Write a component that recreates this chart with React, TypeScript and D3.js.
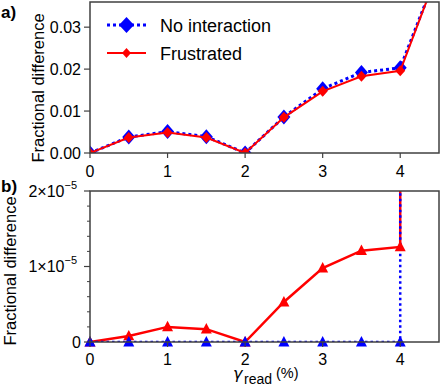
import React from 'react';
import * as d3 from 'd3';

const gammaRead = [0, 0.5, 1, 1.5, 2, 2.5, 3, 3.5, 4, 4.5];
const aNoInteraction = [0, 0.0038, 0.0051, 0.0039, 0, 0.0086, 0.0153, 0.0192, 0.0203, 0.044];
const aFrustrated = [0, 0.0037, 0.0049, 0.0037, 0, 0.0085, 0.0147, 0.0183, 0.0196, 0.044];
const bNoInteraction = [0, 0, 0, 0, 0, 0, 0, 0, 0, 0.04];
const bFrustrated = [0, 0.08e-5, 0.2e-5, 0.17e-5, 0, 0.53e-5, 0.98e-5, 1.21e-5, 1.26e-5, 0.04];
const xTicks = [0, 1, 2, 3, 4];
const aYTicks = [0, 0.01, 0.02, 0.03];
const bYTicks = [0, 1e-5, 2e-5];
const bMinorTicks = d3.range(1, 10).filter(i => i !== 5).map(i => i * 0.2e-5);

const FONT = '"Liberation Sans", Arial, Helvetica, sans-serif';
const BLUE = '#0000ff';
const RED = '#ff0000';
const FRAME = '#404040';

const diamond = (cx: number, cy: number, w: number, h: number) =>
  `M${cx},${cy - h / 2}L${cx + w / 2},${cy}L${cx},${cy + h / 2}L${cx - w / 2},${cy}Z`;
const triangle = (cx: number, cy: number, s: number) =>
  `M${cx},${cy - s * 0.55}L${cx + s / 2},${cy + s * 0.4}L${cx - s / 2},${cy + s * 0.4}Z`;

export default function App() {
  const left = 90, right = 439;
  const x = d3.scaleLinear().domain([0, 4.5]).range([left, right]);
  const ya = d3.scaleLinear().domain([0, 0.036]).range([153, 2]);
  const yb = d3.scaleLinear().domain([0, 2e-5]).range([342, 191]);

  const lineA = (vals: number[]) =>
    d3.line<number>().x((_, i) => x(gammaRead[i])).y(d => ya(d))(vals) || '';
  const lineB = (vals: number[]) =>
    d3.line<number>().x((_, i) => x(gammaRead[i])).y(d => yb(d))(vals) || '';

  const [a0, a1] = ya.range();
  const [b0, b1] = yb.range();

  return (
    <svg width={442} height={389} style={{ position: 'absolute', left: 0, top: 0, background: '#fff' }}
      fontFamily={FONT}>
      <defs>
        <clipPath id="clipA"><rect x={left} y={a1} width={right - left} height={a0 - a1} /></clipPath>
        <clipPath id="clipB"><rect x={left} y={b1} width={right - left} height={b0 - b1} /></clipPath>
      </defs>

      {/* panel a */}
      <g clipPath="url(#clipA)">
        <path d={lineA(aNoInteraction)} fill="none" stroke={BLUE} strokeWidth={3} strokeDasharray="3,3" />
        {aNoInteraction.map((d, i) => (
          <path key={'an' + i} d={diamond(x(gammaRead[i]), ya(d), 13, 15)} fill={BLUE} />
        ))}
        <path d={lineA(aFrustrated)} fill="none" stroke={RED} strokeWidth={2} />
        {aFrustrated.map((d, i) => (
          <path key={'af' + i} d={diamond(x(gammaRead[i]), ya(d), 10, 11)} fill={RED} />
        ))}
      </g>
      <rect x={left} y={a1} width={right - left} height={a0 - a1} fill="none" stroke={FRAME} strokeWidth={1.5} />
      {xTicks.map(t => (
        <g key={'axt' + t}>
          <line x1={x(t)} x2={x(t)} y1={a0} y2={a0 + 5} stroke={FRAME} strokeWidth={1.2} />
          <text x={x(t)} y={177} textAnchor="middle" fontSize={16}>{t}</text>
        </g>
      ))}
      {aYTicks.map(t => (
        <g key={'ayt' + t}>
          <line x1={left - 6} x2={left} y1={ya(t)} y2={ya(t)} stroke={FRAME} strokeWidth={1.2} />
          <text x={81} y={ya(t)} dy="0.36em" textAnchor="end" fontSize={16}>{d3.format('.2f')(t)}</text>
        </g>
      ))}
      <text transform="translate(44,88) rotate(-90)" textAnchor="middle" fontSize={16.5}>Fractional difference</text>
      <text x={1} y={18} fontSize={17} fontWeight="bold">a)</text>

      {/* legend */}
      <line x1={107} x2={146} y1={25} y2={25} stroke={BLUE} strokeWidth={3} strokeDasharray="3,3" />
      <path d={diamond(126.5, 25, 15, 16)} fill={BLUE} />
      <text x={160} y={32} fontSize={18}>No interaction</text>
      <line x1={107} x2={146} y1={53} y2={53} stroke={RED} strokeWidth={2} />
      <path d={diamond(126.5, 53, 9, 10)} fill={RED} />
      <text x={160} y={60} fontSize={18}>Frustrated</text>

      {/* panel b */}
      <g clipPath="url(#clipB)">
        <path d={lineB(bFrustrated)} fill="none" stroke={RED} strokeWidth={2.5} />
        <path d={lineB(bNoInteraction)} fill="none" stroke={BLUE} strokeWidth={2.5} strokeDasharray="2.5,3" />
      </g>
      {bFrustrated.slice(0, 9).map((d, i) => (
        <path key={'bf' + i} d={triangle(x(gammaRead[i]), yb(d), 11)} fill={RED} />
      ))}
      {bNoInteraction.slice(0, 9).map((d, i) => (
        <path key={'bn' + i} d={triangle(x(gammaRead[i]), yb(d), 11)} fill={BLUE} />
      ))}
      <rect x={left} y={b1} width={right - left} height={b0 - b1} fill="none" stroke={FRAME} strokeWidth={1.5} />
      {xTicks.map(t => (
        <g key={'bxt' + t}>
          <line x1={x(t)} x2={x(t)} y1={b0} y2={b0 + 5} stroke={FRAME} strokeWidth={1.2} />
          <text x={x(t)} y={365} textAnchor="middle" fontSize={16}>{t}</text>
        </g>
      ))}
      {bMinorTicks.map(t => (
        <line key={'bmt' + t} x1={left - 3} x2={left} y1={yb(t)} y2={yb(t)} stroke={FRAME} strokeWidth={1} />
      ))}
      {bYTicks.map(t => (
        <g key={'byt' + t}>
          <line x1={left - 6} x2={left} y1={yb(t)} y2={yb(t)} stroke={FRAME} strokeWidth={1.2} />
          {t === 0 ? (
            <text x={81} y={yb(t)} dy="0.36em" textAnchor="end" fontSize={16}>0</text>
          ) : (
            <text x={77} y={yb(t)} dy="0.36em" textAnchor="end" fontSize={16}>
              {`${Math.round(t / 1e-5)}×10`}
              <tspan fontSize={11} dy="-0.75em">−5</tspan>
            </text>
          )}
        </g>
      ))}
      <text transform="translate(16,271) rotate(-90)" textAnchor="middle" fontSize={16.5}>Fractional difference</text>
      <text x={1} y={192} fontSize={17} fontWeight="bold">b)</text>

      {/* x label */}
      <text x={233} y={379} fontSize={16} fontStyle="italic" fontFamily='"DejaVu Sans", sans-serif'>γ</text>
      <text x={244} y={384} fontSize={14}>read</text>
      <text x={276} y={378} fontSize={14.5}>(%)</text>
    </svg>
  );
}
